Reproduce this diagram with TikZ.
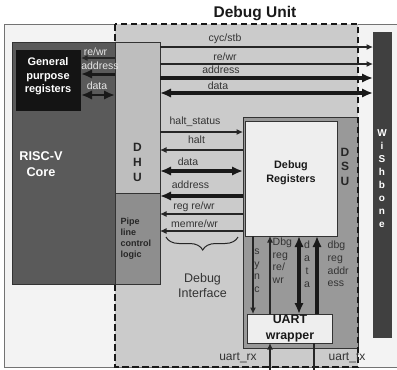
\documentclass[tikz,border=0pt]{standalone}
\usepackage{fontspec}
\setmainfont{Liberation Sans}
\usetikzlibrary{arrows.meta,decorations.pathreplacing,calc}
\definecolor{outerbg}{HTML}{F3F3F3}
\definecolor{dubg}{HTML}{CBCBCB}
\definecolor{corebg}{HTML}{5A5A5A}
\definecolor{dhubg}{HTML}{BEBEBE}
\definecolor{pipebg}{HTML}{8E8E8E}
\definecolor{dsubg}{HTML}{999999}
\definecolor{regbg}{HTML}{EEEEEE}
\definecolor{wbbg}{HTML}{404040}
\definecolor{gprbg}{HTML}{141414}
\definecolor{lbl}{HTML}{333333}
\definecolor{lightlbl}{HTML}{E6E6E6}
\definecolor{edge}{HTML}{333333}
\begin{document}
\begin{tikzpicture}[x=1pt,y=-1pt,
  blk/.style={rectangle,anchor=north west,inner sep=0pt,outer sep=0pt},
  lab/.style={inner sep=0pt,text=lbl,font=\fontsize{10.5}{12}\selectfont},
  llab/.style={inner sep=0pt,text=lightlbl,font=\fontsize{10.5}{12}\selectfont},
  stack/.style={inner sep=0pt,text=lbl,align=center,font=\fontsize{10.5}{12.8}\selectfont},
  stackl/.style={inner sep=0pt,text=lbl,align=left,anchor=north west,font=\fontsize{10.5}{12.7}\selectfont},
  big/.style={inner sep=0pt,text=#1,align=center,font=\bfseries\fontsize{12}{15}\selectfont},
  thinw/.style={line width=1.1pt,draw=black!85},
  thickw/.style={line width=3.6pt,draw=black!90},
  ta/.style={-{Latex[length=6.5pt,width=6pt]}},
  Ta/.style={-{Latex[length=11pt,width=9.5pt]}},
  Tab/.style={{Latex[length=11pt,width=9.5pt]}-{Latex[length=11pt,width=9.5pt]}}
]
\useasboundingbox (0,0) rectangle (397,370);

% backgrounds
\node[blk,fill=outerbg,draw=black!55,line width=0.8pt,minimum width=410pt,minimum height=343pt] (outer) at (4,24) {};
\node[blk,fill=dubg,minimum width=243pt,minimum height=343pt] (du) at (115,24) {};
\node[font=\bfseries\fontsize{15.5}{18}\selectfont,text=black!90,inner sep=0pt] (title) at (255,13.5) {Debug Unit};

% DSU
\node[blk,fill=dsubg,draw=edge,line width=0.8pt,minimum width=115pt,minimum height=231pt] (dsu) at (243,117) {};
\node[blk,fill=regbg,draw=edge,line width=0.8pt,minimum width=92pt,minimum height=115pt] (dreg) at (245,121) {};
\node[inner sep=0pt,align=center,font=\bfseries\fontsize{10.8}{13.5}\selectfont,text=black!90] (dregt) at (291,172.5) {Debug\\Registers};
\node[big=black!85,font=\bfseries\fontsize{12}{14.5}\selectfont] (dsut) at (345,166.5) {D\\S\\U};
\node[blk,fill=regbg,draw=edge,line width=0.8pt,minimum width=85pt,minimum height=29pt] (uart) at (247,314) {};
\node[inner sep=0pt,align=center,font=\bfseries\fontsize{12.4}{16}\selectfont,text=black!90] (uartt) at (290,329) {UART\\wrapper};

% dashed border of debug unit
\draw[line width=1.8pt,dash pattern=on 6.5pt off 3.5pt,draw=black!90] (du.north west) rectangle (du.south east);

% wishbone
\node[blk,fill=wbbg,minimum width=19pt,minimum height=306pt] (wb) at (373,32) {};
\node[inner sep=0pt,align=center,text=white,font=\bfseries\fontsize{10}{13}\selectfont] (wbt) at (382,178.5) {W\\i\\S\\h\\b\\o\\n\\e};

% core
\node[blk,fill=corebg,draw=edge,line width=0.8pt,minimum width=148pt,minimum height=242pt] (core) at (12,42) {};
\node[blk,fill=dhubg,draw=edge,line width=0.8pt,minimum width=45pt,minimum height=242pt] (dhu) at (115,42) {};
\node[blk,fill=pipebg,draw=edge,line width=0.8pt,minimum width=45pt,minimum height=91pt] (pipe) at (115,193) {};
\node[blk,fill=gprbg,minimum width=65pt,minimum height=61pt] (gpr) at (16,50) {};
\node[inner sep=0pt,align=center,text=white,font=\bfseries\fontsize{11}{13.5}\selectfont] (gprt) at (48,76.5) {General\\purpose\\registers};
\node[inner sep=0pt,align=center,text=white,font=\bfseries\fontsize{12.7}{16}\selectfont] (coret) at (41,164) {RISC-V\\Core};
\node[big=black!85] (dhut) at (137.5,162) {D\\H\\U};
\node[inner sep=0pt,align=left,anchor=west,text=black!85,font=\bfseries\fontsize{9}{11}\selectfont] (pipet) at (120.5,238.5) {Pipe\\line\\control\\logic};

% GPR <-> DHU
\draw[thinw,ta] (dhu.west |- 0,58) -- (gpr.east |- 0,58);
\draw[thickw,line width=3pt,Ta] (dhu.west |- 0,74) -- (gpr.east |- 0,74);
\draw[thickw,line width=2.6pt,Tab] (gpr.east |- 0,95) -- (dhu.west |- 0,95);
\node[llab] (l1) at (95.5,52) {re/wr};
\node[llab] (l2) at (100,66) {address};
\node[llab] (l3) at (97,86) {data};

% DHU <-> Wishbone
\draw[thinw,ta] (dhu.east |- 0,47) -- (wb.west |- 0,47);
\draw[thinw,ta] (dhu.east |- 0,64) -- (wb.west |- 0,64);
\draw[thickw,Ta] (dhu.east |- 0,78) -- (wb.west |- 0,78);
\draw[thickw,Tab] (dhu.east |- 0,93) -- (wb.west |- 0,93);
\node[lab] (t1) at (225,39) {cyc/stb};
\node[lab] (t2) at (225,57) {re/wr};
\node[lab] (t3) at (221,69.5) {address};
\node[lab] (t4) at (218,86) {data};

% DHU <-> DSU
\draw[thinw,ta] (dhu.east |- 0,132) -- (dsu.west |- 0,132);
\draw[thinw,ta] (dsu.west |- 0,150) -- (dhu.east |- 0,150);
\draw[thickw,Tab] (dhu.east |- 0,171) -- (dsu.west |- 0,171);
\draw[thickw,Ta] (dsu.west |- 0,196) -- (dhu.east |- 0,196);
\draw[thinw,ta] (dsu.west |- 0,214) -- (dhu.east |- 0,214);
\draw[thinw,ta] (dsu.west |- 0,231) -- (dhu.east |- 0,231);
\node[lab] (m1) at (195,122) {halt\_status};
\node[lab] (m2) at (196.5,139.5) {halt};
\node[lab] (m3) at (188,162) {data};
\node[lab] (m4) at (190.5,184.5) {address};
\node[lab] (m5) at (194,207) {reg re/wr};
\node[lab] (m6) at (194.5,224) {memre/wr};

% brace
\coordinate (bl) at (166,237);
\coordinate (br) at (238,237);
\draw[line width=1pt,draw=black!85,decorate,decoration={brace,mirror,amplitude=13pt,aspect=0.51}] (bl) -- (br);
\node[inner sep=0pt,align=center,text=lbl,font=\fontsize{12.5}{15}\selectfont] (di) at (202.5,285.5) {Debug\\Interface};

% Debug registers <-> UART
\draw[thinw,ta] (dreg.south -| 253,0) -- (uart.north -| 253,0);
\draw[thinw,ta] (uart.north -| 270,0) -- (dreg.south -| 270,0);
\draw[thickw,Tab] (dreg.south -| 299,0) -- (uart.north -| 299,0);
\draw[thickw,Ta] (uart.north -| 317,0) -- (dreg.south -| 317,0);
\node[stack,anchor=north] (s1) at (257,248.5) {s\\y\\n\\c};
\node[stackl] (s2) at (272.5,237.5) {Dbg\\reg\\re/\\wr};
\node[stack,anchor=north] (s3) at (307,241) {d\\a\\t\\a};
\node[stackl] (s4) at (327.5,241) {dbg\\reg\\addr\\ess};

% UART pins
\coordinate (rxin) at (270,373);
\coordinate (txout) at (314,373);
\draw[thinw,ta] (rxin) -- (uart.south -| rxin);
\draw[thinw] (uart.south -| txout) -- (txout);
\node[lab,font=\fontsize{12}{14}\selectfont] (rx) at (238,358) {uart\_rx};
\node[lab,font=\fontsize{12}{14}\selectfont] (tx) at (347,358) {uart\_tx};
\end{tikzpicture}
\end{document}
